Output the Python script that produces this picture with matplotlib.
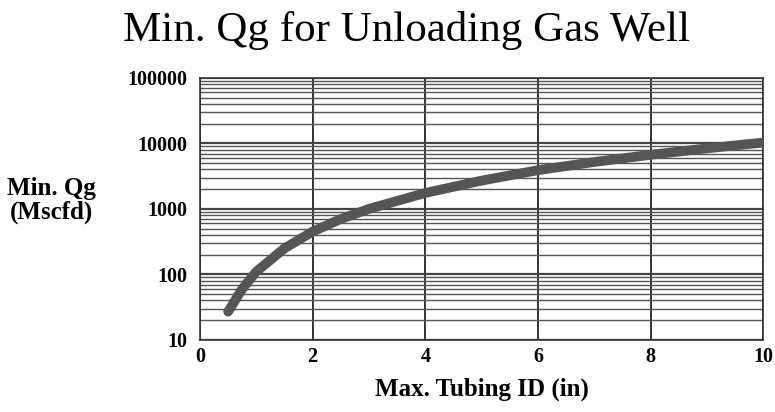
import matplotlib
matplotlib.use("Agg")
import matplotlib.pyplot as plt
from matplotlib.ticker import LogLocator, FixedLocator, NullFormatter

# tubing ID (in) vs minimum gas rate (Mscfd)
tubing_id = [0.5, 0.75, 1.0, 1.5, 2.0, 2.5, 3.0, 4.0, 5.0, 6.0, 7.0, 8.0, 9.0, 10.0]
min_qg = [27, 60, 110, 250, 450, 700, 1000, 1750, 2700, 3900, 5200, 6700, 8400, 10300]
y_ticks = [10, 100, 1000, 10000, 100000]
y_tick_labels = ["10", "100", "1000", "10000", "100000"]

plt.rcParams["font.family"] = ["Liberation Serif", "DejaVu Serif"]

fig = plt.figure(figsize=(7.75, 4.12), dpi=100)
ax = fig.add_axes([0.258, 0.175, 0.727, 0.636])

ax.set_yscale("log")
ax.set_xlim(0, 10)
ax.set_ylim(10, 100000)

ax.yaxis.set_major_locator(FixedLocator(y_ticks))
ax.set_yticklabels(y_tick_labels)
ax.yaxis.set_minor_locator(LogLocator(base=10, subs=range(2, 10)))
ax.yaxis.set_minor_formatter(NullFormatter())
ax.set_xticks([0, 2, 4, 6, 8, 10])

ax.grid(axis="y", which="major", color="#444444", lw=1.6)
ax.grid(axis="y", which="minor", color="#555555", lw=1.0)
ax.grid(axis="x", which="major", color="#111111", lw=1.2)
ax.tick_params(axis="y", which="both", length=0, pad=9)
ax.tick_params(axis="x", which="both", length=0, pad=5)
for lab in ax.get_xticklabels() + ax.get_yticklabels():
    lab.set_fontweight("bold")
    lab.set_fontsize(14.5)
for s in ax.spines.values():
    s.set_color("#333333")
    s.set_linewidth(1.2)

ax.plot(tubing_id, min_qg, color="#555555", lw=7, solid_capstyle="round", zorder=5)

fig.text(0.525, 0.927, "Min. Qg for Unloading Gas Well", ha="center", va="center",
         fontsize=31)
fig.text(0.066, 0.513, "Min. Qg\n(Mscfd)", ha="center", va="center", fontsize=18,
         fontweight="bold", linespacing=1.05)
ax.set_xlabel("Max. Tubing ID (in)", fontsize=18, fontweight="bold", labelpad=8)

fig.savefig("out.png", dpi=100)
